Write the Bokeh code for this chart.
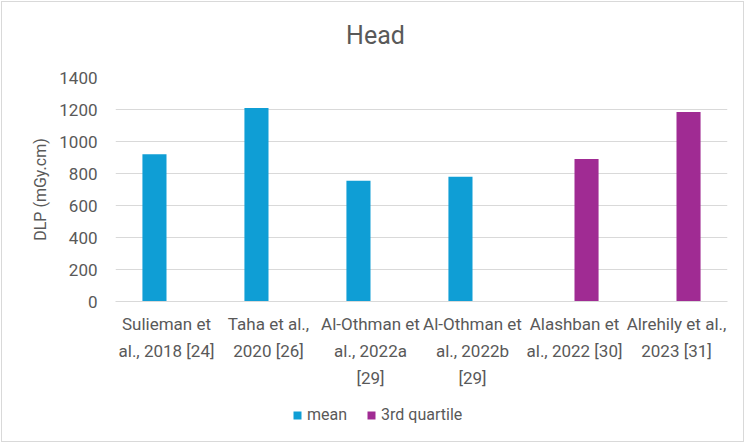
from bokeh.plotting import figure
from bokeh.layouts import column
from bokeh.models import FactorRange, Range1d, FixedTicker, Legend, LegendItem, ColumnDataSource, Label
from bokeh.transform import dodge
from bokeh.embed import file_html
from bokeh.resources import INLINE

categories = [
    "Sulieman et\nal., 2018 [24]",
    "Taha et al.,\n2020 [26]",
    "Al-Othman et\nal., 2022a\n[29]",
    "Al-Othman et\nal., 2022b\n[29]",
    "Alashban et\nal., 2022 [30]",
    "Alrehily et al.,\n2023 [31]",
]
mean_values = [920, 1210, 755, 780, None, None]
q3_values = [None, None, None, None, 890, 1185]
y_ticks = [0, 200, 400, 600, 800, 1000, 1200, 1400]
series_names = ["mean", "3rd quartile"]
colors = ["#0F9ED5", "#A02B93"]
chart_title = "Head"

FONT = "Roboto"
TXT = "#595959"


def strip(height):
    f = figure(width=741, height=height, output_backend="svg", toolbar_location=None,
               x_axis_location=None, y_axis_location=None,
               min_border_left=0, min_border_right=0, min_border_top=0, min_border_bottom=0,
               x_range=FactorRange(*categories), y_range=Range1d(5000, 6000))
    f.outline_line_color = None
    f.xgrid.visible = False
    f.ygrid.visible = False
    return f


# title strip
tt = strip(50)
tt.add_layout(Label(x=260, y=17, x_units="screen", y_units="screen", text=chart_title,
                    text_align="center", text_baseline="middle", text_font=FONT,
                    text_font_size="25px", text_color=TXT))

# main chart
p = figure(
    x_range=FactorRange(*categories),
    y_range=Range1d(0, 1400),
    width=741, height=353,
    output_backend="svg", toolbar_location=None,
    min_border_left=113, min_border_right=16, min_border_top=25, min_border_bottom=104,
)
p.outline_line_color = None
p.background_fill_color = "white"
p.border_fill_color = "white"


def src(vals):
    c = [k for k, v in zip(categories, vals) if v is not None]
    v = [v for v in vals if v is not None]
    return ColumnDataSource(dict(cat=c, val=v))


mean_src = src(mean_values)
q3_src = src(q3_values)

p.vbar(x=dodge("cat", -0.118, range=p.x_range), top="val", width=0.236,
       source=mean_src, color=colors[0], line_color=None)
p.vbar(x=dodge("cat", 0.118, range=p.x_range), top="val", width=0.236,
       source=q3_src, color=colors[1], line_color=None)

p.xgrid.grid_line_color = None
p.ygrid.grid_line_color = "#d9d9d9"
p.ygrid.grid_line_width = 1
p.yaxis.ticker = FixedTicker(ticks=y_ticks)

p.yaxis.axis_line_color = None
p.yaxis.major_tick_line_color = None
p.yaxis.minor_tick_line_color = None
p.yaxis.major_tick_out = 0
p.yaxis.major_tick_in = 0
p.yaxis.major_label_standoff = 18
p.yaxis.major_label_text_font = FONT
p.yaxis.major_label_text_font_size = "17px"
p.yaxis.major_label_text_color = TXT
p.yaxis.axis_label = "DLP (mGy.cm)"
p.yaxis.axis_label_text_font = FONT
p.yaxis.axis_label_text_font_size = "16px"
p.yaxis.axis_label_text_font_style = "normal"
p.yaxis.axis_label_text_color = TXT
p.yaxis.axis_label_standoff = 6

p.xaxis.axis_line_color = "#d9d9d9"
p.xaxis.major_tick_line_color = None
p.xaxis.major_tick_out = 0
p.xaxis.major_tick_in = 0
p.xaxis.major_label_standoff = 12
p.xaxis.major_label_text_font = FONT
p.xaxis.major_label_text_font_size = "17px"
p.xaxis.major_label_text_color = TXT
p.xaxis.major_label_text_line_height = 1.35

# legend strip below the chart (same series, drawn outside its visible range)
lg = strip(36)
k1 = lg.vbar(x="cat", top="val", width=0.236, source=mean_src, color=colors[0], line_color=None)
k2 = lg.vbar(x="cat", top="val", width=0.236, source=q3_src, color=colors[1], line_color=None)
legend = Legend(items=[LegendItem(label=series_names[0], renderers=[k1]),
                       LegendItem(label=series_names[1], renderers=[k2])],
                location=(177, 17), orientation="horizontal",
                glyph_width=10, glyph_height=10, label_standoff=5, spacing=19,
                padding=0, margin=0, border_line_color=None, background_fill_alpha=0,
                label_text_font=FONT, label_text_font_size="16px", label_text_color=TXT,
                label_height=16)
lg.add_layout(legend, "center")

layout = column(tt, p, lg, spacing=0)
layout.styles = {"border": "1px solid #d9d9d9", "margin-left": "1px", "margin-top": "1px"}

open("out.html", "w").write(file_html(layout, INLINE))
